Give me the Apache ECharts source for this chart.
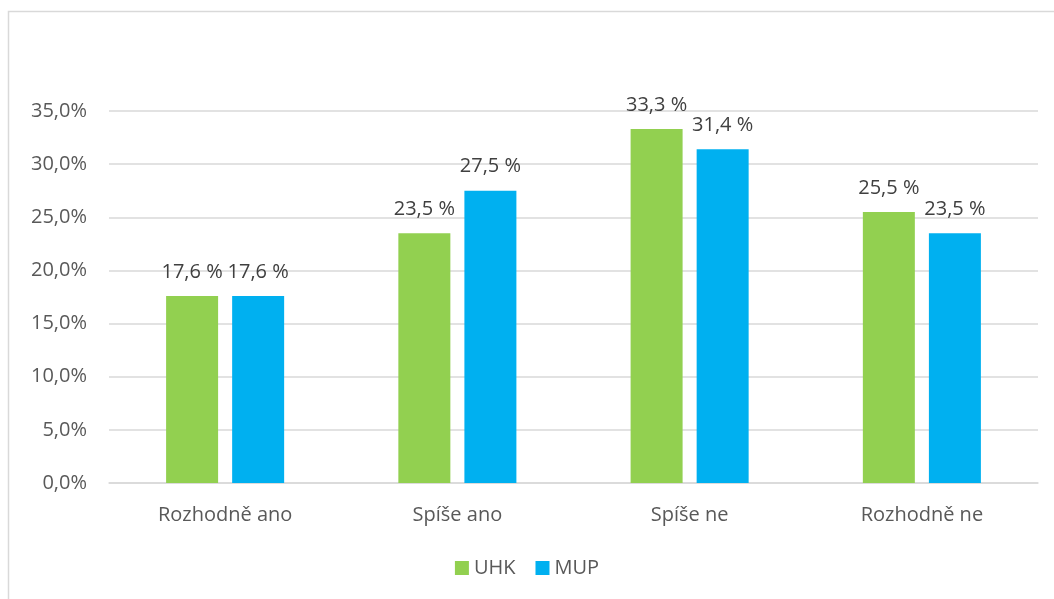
<!DOCTYPE html>
<html><head><meta charset="utf-8">
<script src="https://cdn.jsdelivr.net/npm/echarts@6/dist/echarts.min.js"></script>
<style>html,body{margin:0;padding:0;background:#fff}#c{width:1054px;height:599px}</style>
</head><body><div id="c"></div>
<script>
const categories = ['Rozhodně ano', 'Spíše ano', 'Spíše ne', 'Rozhodně ne'];
const uhk = [17.6, 23.5, 33.3, 25.5];
const mup = [17.6, 27.5, 31.4, 23.5];
const seriesNames = ['UHK', 'MUP'];
const font = '"Open Sans", "Liberation Sans", sans-serif';
const fs = 20;
const chart = echarts.init(document.getElementById('c'), null, {renderer: 'canvas'});
const lbl = {show: true, position: 'top', distance: 14, color: '#404040', fontSize: fs, fontFamily: font,
  formatter: p => p.value.toFixed(1).replace('.', ',') + ' %'};
chart.setOption({
  animation: false,
  graphic: [{type: 'rect', shape: {x: 8.5, y: 11.5, width: 1060, height: 600}, style: {fill: 'none', stroke: '#d9d9d9', lineWidth: 1.5}}],
  grid: {left: 109, right: 16, top: 111, bottom: 116, containLabel: false},
  legend: {bottom: 16, left: 'center', itemWidth: 14, itemHeight: 14, itemGap: 20, icon: 'rect',
    textStyle: {color: '#595959', fontSize: fs, fontFamily: font}, data: seriesNames},
  xAxis: {type: 'category', data: categories,
    axisLine: {lineStyle: {color: '#d9d9d9', width: 1.5}}, axisTick: {show: false},
    axisLabel: {color: '#595959', fontSize: fs, fontFamily: font, margin: 22}},
  yAxis: {type: 'value', min: 0, max: 35, interval: 5,
    axisLabel: {color: '#595959', fontSize: fs, fontFamily: font, margin: 22,
      formatter: v => v.toFixed(1).replace('.', ',') + '%'},
    splitLine: {lineStyle: {color: '#d9d9d9', width: 1.5}}, axisLine: {show: false}, axisTick: {show: false}},
  series: [
    {name: seriesNames[0], type: 'bar', data: uhk, barWidth: 52, barGap: '27%', itemStyle: {color: '#92D050'}, label: lbl},
    {name: seriesNames[1], type: 'bar', data: mup, barWidth: 52, itemStyle: {color: '#00B0F0'}, label: lbl}
  ]
});
</script></body></html>
